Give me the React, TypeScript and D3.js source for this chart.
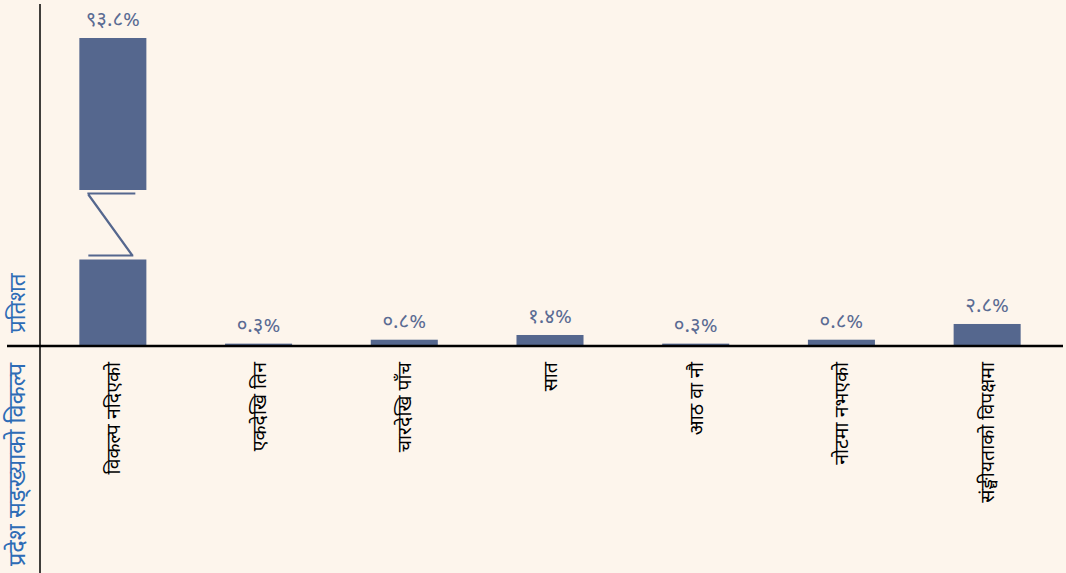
import React from "react";
import { scaleBand, scaleLinear } from "d3";

const categories = [
  "विकल्प नदिएको",
  "एकदेखि तिन",
  "चारदेखि पाँच",
  "सात",
  "आठ वा नौ",
  "नोटमा नभएको",
  "संङ्घीयताको विपक्षमा",
];
const values = [93.8, 0.3, 0.8, 1.4, 0.3, 0.8, 2.8];
const valueLabels = ["९३.८%", "०.३%", "०.८%", "१.४%", "०.३%", "०.८%", "२.८%"];
// axis break for the tall bar
const breakLow = 11;
const breakHigh = 74.5;
const yTitle = "प्रतिशत";
const xTitle = "प्रदेश सङ्ख्याको विकल्प";

const W = 1066;
const H = 573;
const baseY = 346;
const barColor = "#55678e";
const font = "'Noto Sans Devanagari', 'Noto Sans', sans-serif";

export default function App() {
  React.useEffect(() => {
    document.body.style.margin = "0";
  }, []);

  const x = scaleBand<string>()
    .domain(categories)
    .range([40, 1060])
    .paddingInner(0.54)
    .paddingOuter(0.27);

  // lower part of the value axis
  const y = scaleLinear().domain([0, breakLow]).range([baseY, 259.5]);
  // upper part above the break
  const yTop = scaleLinear().domain([breakHigh, 93.8]).range([190, 38]);

  const bw = x.bandwidth();

  return (
    <svg width={W} height={H} style={{ display: "block", background: "#fdf5ec" }}>
      {categories.map((c, i) => {
        const v = values[i];
        const x0 = x(c) ?? 0;
        const cx = x0 + bw / 2;
        const broken = v > breakLow;
        const top = broken ? yTop(v) : y(v);
        return (
          <g key={c}>
            {broken ? (
              <>
                <rect x={x0} y={y(breakLow)} width={bw} height={baseY - y(breakLow)} fill={barColor} />
                <rect x={x0} y={top} width={bw} height={yTop(breakHigh) - top} fill={barColor} />
                <path
                  d={`M${x0 + 8},${yTop(breakHigh) + 3.5} L${x0 + 56},${yTop(breakHigh) + 3.5} M${x0 + 9},${yTop(breakHigh) + 4.5} L${x0 + 53},${y(breakLow) - 4} M${x0 + 9},${y(breakLow) - 4} L${x0 + 54},${y(breakLow) - 4}`}
                  stroke={barColor}
                  strokeWidth={2.2}
                  fill="none"
                />
              </>
            ) : (
              <rect x={x0} y={top} width={bw} height={baseY - top} fill={barColor} />
            )}
            <text
              x={cx}
              y={top - 12}
              textAnchor="middle"
              fontFamily={font}
              fontSize={20.5}
              fill="#5a6b93"
            >
              {valueLabels[i]}
            </text>
            <text
              transform={`translate(${cx + 7},${baseY + 16}) rotate(-90)`}
              textAnchor="end"
              fontFamily={font}
              fontSize={19.5}
              fill="#000"
            >
              {c}
            </text>
          </g>
        );
      })}
      <line x1={40} x2={40} y1={4} y2={H} stroke="#000" strokeWidth={1.5} />
      <line x1={7} x2={1063} y1={baseY} y2={baseY} stroke="#000" strokeWidth={2.5} />
      <text
        transform={`translate(25,333) rotate(-90)`}
        fontFamily={font}
        fontSize={22.5}
        fill="#2e6cb6"
      >
        {yTitle}
      </text>
      <text
        transform={`translate(25,566) rotate(-90)`}
        fontFamily={font}
        fontSize={23.5}
        fill="#2e6cb6"
      >
        {xTitle}
      </text>
    </svg>
  );
}
